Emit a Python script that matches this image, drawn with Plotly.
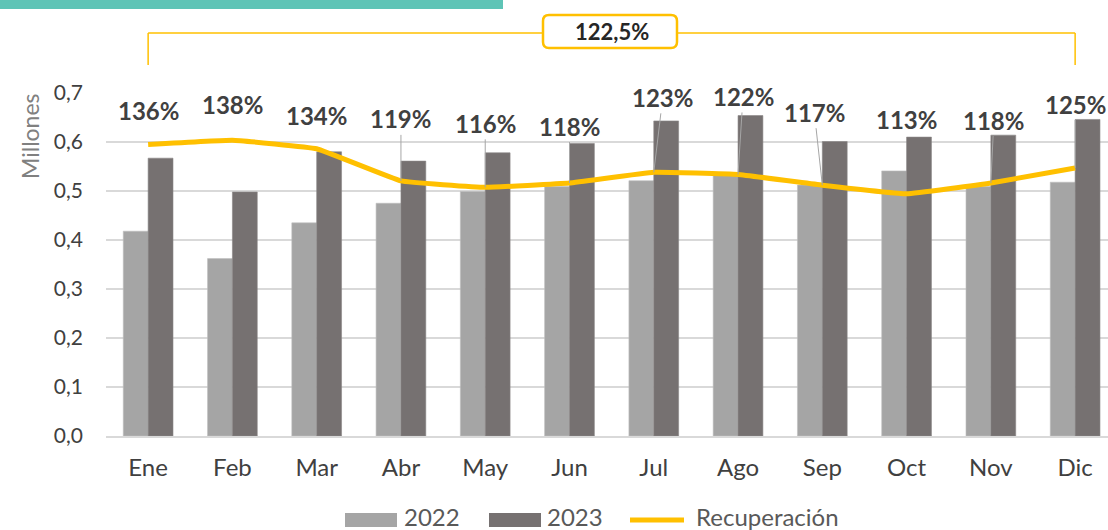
import plotly.graph_objects as go

months = ["Ene", "Feb", "Mar", "Abr", "May", "Jun", "Jul", "Ago", "Sep", "Oct", "Nov", "Dic"]
v2022 = [0.418, 0.362, 0.435, 0.475, 0.499, 0.509, 0.521, 0.533, 0.512, 0.541, 0.509, 0.518]
v2023 = [0.567, 0.498, 0.580, 0.561, 0.578, 0.597, 0.643, 0.654, 0.601, 0.610, 0.614, 0.646]
recuperacion = [1.36, 1.38, 1.34, 1.19, 1.16, 1.18, 1.23, 1.22, 1.17, 1.13, 1.18, 1.25]
rec_labels = ["136%", "138%", "134%", "119%", "116%", "118%", "123%", "122%", "117%", "113%", "118%", "125%"]
total_label = "122,5%"
series_names = ["2022", "2023", "Recuperación"]

# label placement (pixel offsets from line point) and leader visibility
label_dx = [0, 0, 0, 0, 0, 0, 9, 5, -8, 0, 3, 0]
label_dy = [-34, -36, -33, -62, -64, -57, -75, -78, -73, -74, -63, -64]
leader = [False, False, False, True, True, True, True, True, True, False, True, True]

FONT = "Lato"
C22, C23, CREC = "#A5A5A5", "#767171", "#FFC000"
W, H = 1108, 530
ML, MT, MB, MR = 106, 93, 94, 0
pw = W - ML - MR
ph = H - MT - MB


def px_x(px):
    return (px - ML) / pw


def px_y(py):
    return (H - MB - py) / ph


fig = go.Figure()
fig.add_trace(go.Bar(x=months, y=v2022, name=series_names[0],
                     marker=dict(color=C22, line=dict(color="#BDBDBD", width=0.6))))
fig.add_trace(go.Bar(x=months, y=v2023, name=series_names[1],
                     marker=dict(color=C23, line=dict(color="#8A8686", width=0.6))))
fig.add_trace(go.Scatter(x=months, y=recuperacion, name=series_names[2], yaxis="y2", mode="lines",
                         line=dict(color=CREC, width=5, shape="spline", smoothing=0.25)))

annotations = []
for m, r, t, dx, dy, ld in zip(months, recuperacion, rec_labels, label_dx, label_dy, leader):
    annotations.append(dict(
        x=m, y=r, xref="x", yref="y2", text="<b>" + t + "</b>",
        showarrow=True, arrowhead=0, arrowwidth=1,
        arrowcolor="#A6A6A6" if ld else "rgba(0,0,0,0)",
        ax=dx, ay=dy, standoff=0,
        font=dict(family=FONT, size=24, color="#404040"),
    ))

# y-axis title (placed near top like the original)
annotations.append(dict(x=px_x(30), y=px_y(136), xref="paper", yref="paper", text="Millones",
                        xanchor="center", yanchor="middle",
                        textangle=-90, showarrow=False, font=dict(family=FONT, size=23, color="#808080")))

# total box text
annotations.append(dict(x=5.5, y=px_y(31.5), xref="x", yref="paper", text="<b>" + total_label + "</b>",
                        xanchor="center", yanchor="middle",
                        showarrow=False, font=dict(family=FONT, size=22, color="#262626")))

# custom legend (wide swatches like the original)
leg_y = px_y(516)
annotations += [
    dict(x=px_x(402), y=leg_y, xref="paper", yref="paper", text=series_names[0], xanchor="left",
         yanchor="middle", showarrow=False, font=dict(family=FONT, size=24, color="#595959")),
    dict(x=px_x(545), y=leg_y, xref="paper", yref="paper", text=series_names[1], xanchor="left",
         yanchor="middle", showarrow=False, font=dict(family=FONT, size=24, color="#595959")),
    dict(x=px_x(694), y=leg_y, xref="paper", yref="paper", text=series_names[2], xanchor="left",
         yanchor="middle", showarrow=False, font=dict(family=FONT, size=24, color="#595959")),
]

# rounded box path in paper coordinates
bx0, bx1, by0, by1, rr = 543, 677, 15, 48, 6


def P(x, y):
    return f"{px_x(x):.5f},{px_y(y):.5f}"


box_path = (f"M {P(bx0 + rr, by0)} L {P(bx1 - rr, by0)} Q {P(bx1, by0)} {P(bx1, by0 + rr)} "
            f"L {P(bx1, by1 - rr)} Q {P(bx1, by1)} {P(bx1 - rr, by1)} "
            f"L {P(bx0 + rr, by1)} Q {P(bx0, by1)} {P(bx0, by1 - rr)} "
            f"L {P(bx0, by0 + rr)} Q {P(bx0, by0)} {P(bx0 + rr, by0)} Z")

yb_top = px_y(33)
yb_bot = px_y(65)
shapes = [
    # teal bar at top
    dict(type="rect", xref="paper", yref="paper", x0=px_x(0), x1=px_x(503), y0=px_y(9), y1=px_y(0),
         fillcolor="#5EC4B6", line=dict(width=0)),
    # bracket
    dict(type="line", xref="x", yref="paper", x0="Ene", x1="Ene", y0=yb_bot, y1=yb_top,
         line=dict(color=CREC, width=1.5)),
    dict(type="line", xref="x", yref="paper", x0="Dic", x1="Dic", y0=yb_bot, y1=yb_top,
         line=dict(color=CREC, width=1.5)),
    dict(type="line", xref="x", yref="paper", x0="Ene", x1="Dic", y0=yb_top, y1=yb_top,
         line=dict(color=CREC, width=1.5)),
    dict(type="path", xref="paper", yref="paper", path=box_path, fillcolor="white",
         line=dict(color=CREC, width=2.5)),
    # legend swatches
    dict(type="rect", xref="paper", yref="paper", x0=px_x(345), x1=px_x(397), y0=px_y(527), y1=px_y(513),
         fillcolor=C22, line=dict(width=0)),
    dict(type="rect", xref="paper", yref="paper", x0=px_x(489), x1=px_x(541), y0=px_y(527), y1=px_y(513),
         fillcolor=C23, line=dict(width=0)),
    dict(type="line", xref="paper", yref="paper", x0=px_x(630), x1=px_x(684), y0=px_y(520), y1=px_y(520),
         line=dict(color=CREC, width=5)),
]

fig.update_layout(
    width=W, height=H,
    margin=dict(l=ML, r=MR, t=MT, b=MB, autoexpand=False),
    paper_bgcolor="white", plot_bgcolor="white",
    separators=",.",
    barmode="group", bargap=0.41, bargroupgap=0,
    font=dict(family=FONT, color="#404040"),
    xaxis=dict(range=[-0.5, 11.39], showgrid=False, showline=True, linecolor="#D9D9D9", linewidth=1.5,
               tickfont=dict(family=FONT, size=24, color="#404040"), ticks="", ticklabelstandoff=9,
               automargin=False),
    yaxis=dict(range=[0, 0.7], dtick=0.1, tickformat=".1f", showgrid=True, gridcolor="#D9D9D9", gridwidth=1.5,
               zeroline=False, showline=False, ticks="", ticklabelstandoff=22, automargin=False,
               tickfont=dict(family=FONT, size=21, color="#404040")),
    yaxis2=dict(range=[0, 1.6], overlaying="y", side="right", visible=False, showgrid=False),
    annotations=annotations,
    shapes=shapes,
    showlegend=False,
)

fig.write_html("out.html")
